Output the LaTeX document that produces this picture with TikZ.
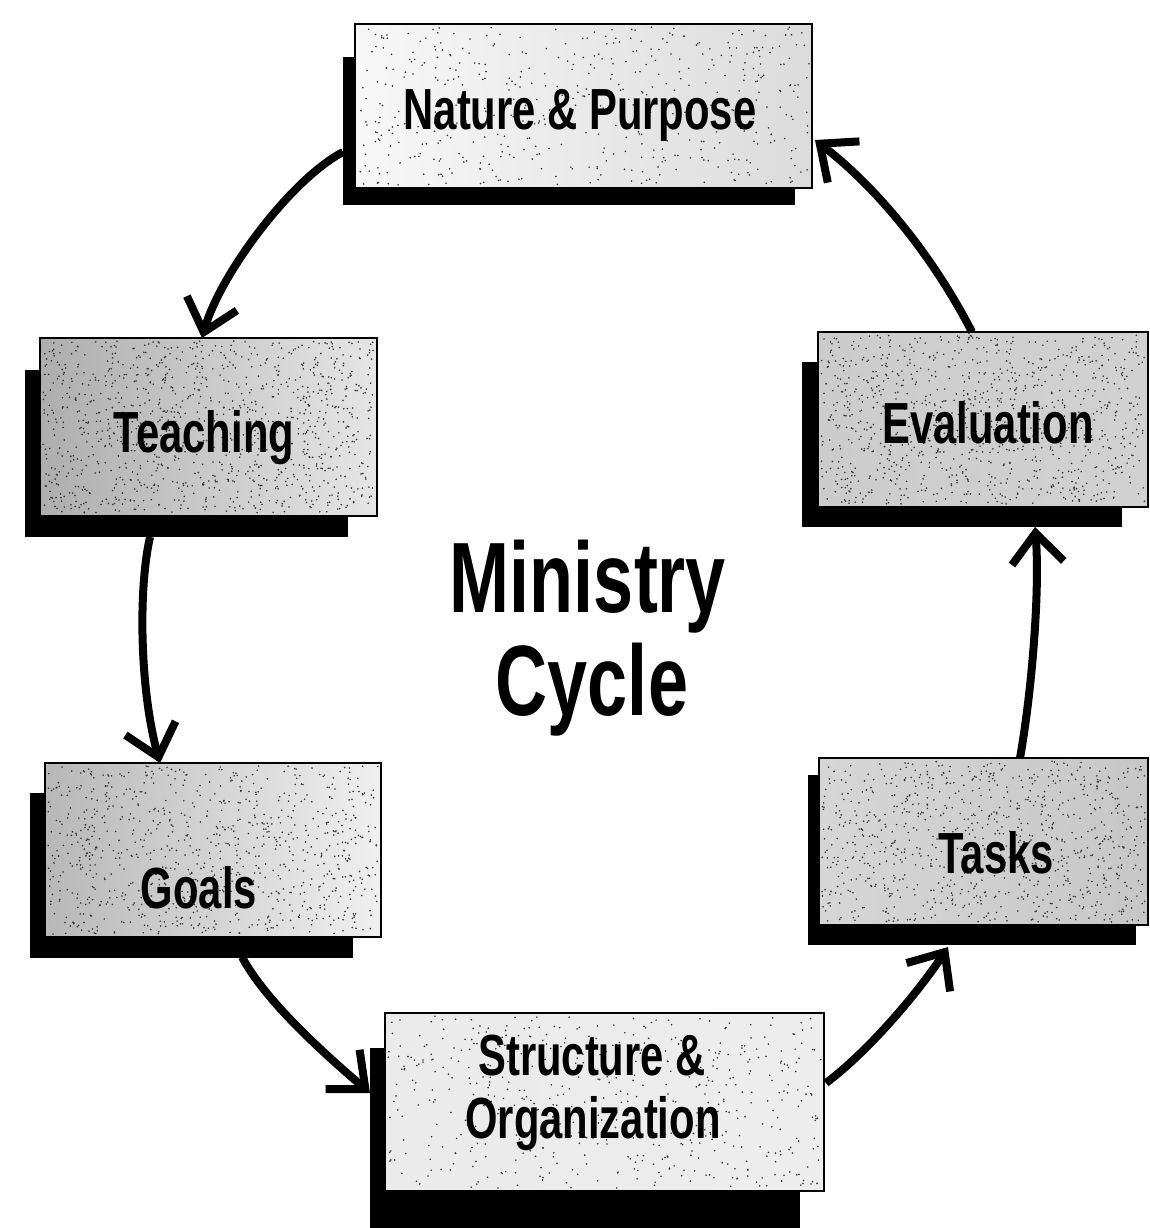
\documentclass[tikz,border=0pt]{standalone}
\usepackage{fontspec}
\newfontfamily\lf[FakeStretch=0.72]{Liberation Sans}
\usetikzlibrary{arrows.meta,calc}
\newcommand\stipplebox[5]{%
  \foreach \k in {1,...,#5}{\fill[black!80] ({#1+rnd*#3},{#2+rnd*#4}) circle[radius=0.9pt];}}
\begin{document}
\begin{tikzpicture}[x=1pt,y=-1pt,
  shadowbox/.style={fill=black,draw=none,inner sep=0pt},
  frontbox/.style={draw=black,line width=1.8pt,inner sep=0pt},
  lbl/.style={font=\lf\bfseries\fontsize{58}{63}\selectfont,anchor=base,inner sep=0pt},
  biglbl/.style={font=\lf\bfseries\fontsize{100}{104}\selectfont,anchor=base,inner sep=0pt},
  conn/.style={line width=8pt,-{Straight Barb[length=30pt,width=52pt]}}
]
\useasboundingbox (0,0) rectangle (1150,1228);
\pgfmathsetseed{12}

% shadows
\node[shadowbox,minimum width=452pt,minimum height=148pt] (npS) at (569,131) {};
\node[shadowbox,minimum width=323pt,minimum height=167pt] (teS) at (186.5,453.5) {};
\node[shadowbox,minimum width=323pt,minimum height=165pt] (goS) at (191.5,875.5) {};
\node[shadowbox,minimum width=430pt,minimum height=180pt] (soS) at (585,1138) {};
\node[shadowbox,minimum width=320pt,minimum height=165pt] (evS) at (962,444.5) {};
\node[shadowbox,minimum width=328pt,minimum height=170pt] (taS) at (972,860) {};

% front boxes
\node[frontbox,left color=black!3,right color=black!14,minimum width=457pt,minimum height=164pt] (np) at (583.5,106) {};
\node[frontbox,left color=black!32,right color=black!10,minimum width=337pt,minimum height=178pt] (te) at (208.5,427) {};
\node[frontbox,left color=black!28,right color=black!6,minimum width=336pt,minimum height=174pt] (go) at (213,850) {};
\node[frontbox,left color=black!8,right color=black!7,minimum width=439pt,minimum height=178pt] (so) at (604.5,1102) {};
\node[frontbox,left color=black!20,right color=black!18,minimum width=330pt,minimum height=175pt] (ev) at (983,419.5) {};
\node[frontbox,left color=black!16,right color=black!22,minimum width=329pt,minimum height=167pt] (ta) at (983.5,841.5) {};

% stipple texture
\stipplebox{358}{27}{451}{158}{500}
\stipplebox{43}{341}{331}{172}{1100}
\stipplebox{48}{766}{330}{168}{900}
\stipplebox{388}{1016}{433}{172}{550}
\stipplebox{821}{335}{324}{169}{1000}
\stipplebox{822}{761}{323}{161}{900}

% labels
\node[lbl] (tnp) at (580,130) {Nature \& Purpose};
\node[lbl] (tte) at (204,452) {Teaching};
\node[lbl] (tgo) at (199,908) {Goals};
\node[lbl] (tso1) at (592,1075) {Structure \&};
\node[lbl] (tso2) at (593,1138) {Organization};
\node[lbl] (tev) at (988,443) {Evaluation};
\node[lbl] (tta) at (996,873) {Tasks};
\node[biglbl] (tm1) at (588,612) {Ministry};
\node[biglbl] (tm2) at (592,715) {Cycle};

% connector end points
\coordinate (c1s) at (343,152);  \coordinate (c1e) at (202,338);
\coordinate (c2s) at (150,537);  \coordinate (c2e) at (160,763);
\coordinate (c3s) at (242,957);  \coordinate (c3e) at (370,1093);
\coordinate (c4s) at (826,1083); \coordinate (c4e) at (948,947);
\coordinate (c5s) at (1020,758); \coordinate (c5e) at (1035,527);
\coordinate (c6s) at (972,332);  \coordinate (c6e) at (815,140);

\draw[conn] (c1s) .. controls (290,180) and (220,275) .. (c1e);
\draw[conn] (c2s) .. controls (138,590) and (140,690) .. (c2e);
\draw[conn] (c3s) .. controls (265,1000) and (320,1050) .. (c3e);
\draw[conn] (c4s) .. controls (870,1050) and (920,990) .. (c4e);
\draw[conn] (c5s) .. controls (1032,690) and (1040,590) .. (c5e);
\draw[conn] (c6s) .. controls (935,260) and (880,190) .. (c6e);
\end{tikzpicture}
\end{document}
